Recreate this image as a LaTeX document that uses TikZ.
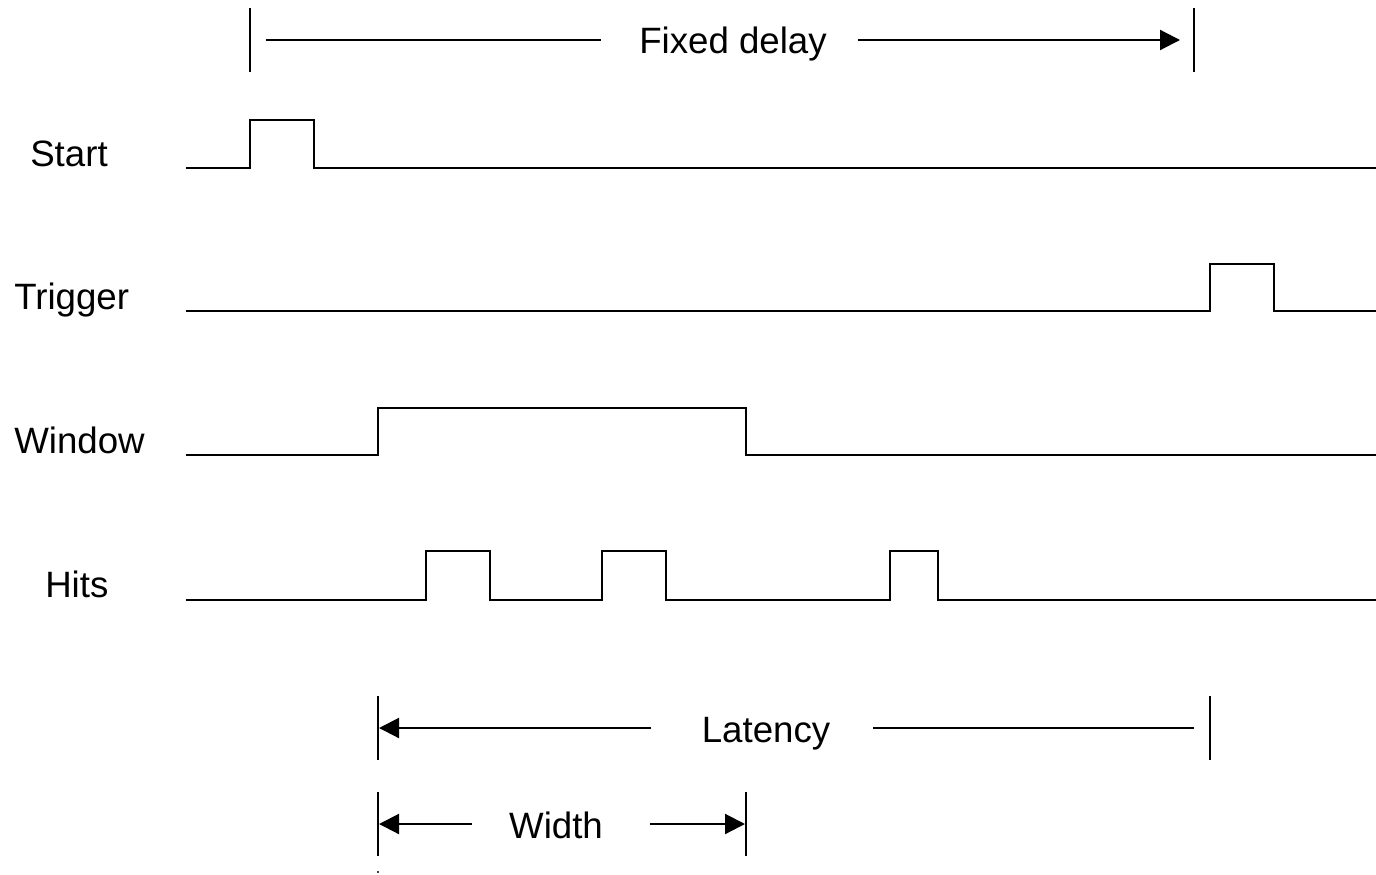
\documentclass[tikz,border=0pt]{standalone}
\usepackage{fontspec}
\setmainfont{Liberation Sans}
\usetikzlibrary{arrows.meta}
\begin{document}
\begin{tikzpicture}[x=0.75pt,y=-0.75pt,
  wave/.style={line width=1.6pt,line join=miter},
  tick/.style={line width=1.6pt},
  dim/.style={line width=1.6pt},
  dimarrow/.style={dim,-{Triangle[length=15pt,width=15pt]}},
  lbl/.style={anchor=base west,inner sep=0pt,font=\fontsize{27.5pt}{30pt}\selectfont},
  dimlbl/.style={anchor=base,inner sep=0pt,font=\fontsize{27.5pt}{30pt}\selectfont}]
\useasboundingbox (0,0) rectangle (1376,874);

% signal names
\node[lbl] (start) at (30,166) {Start};
\node[lbl] (trigger) at (14,309) {Trigger};
\node[lbl] (window) at (14,453) {Window};
\node[lbl] (hits) at (45,597) {Hits};

% waveforms
\draw[wave] (186,168) -- (250,168) -- (250,120) -- (314,120) -- (314,168) -- (1376,168);
\draw[wave] (186,311) -- (1210,311) -- (1210,264) -- (1274,264) -- (1274,311) -- (1376,311);
\draw[wave] (186,455) -- (378,455) -- (378,408) -- (746,408) -- (746,455) -- (1376,455);
\draw[wave] (186,600) -- (426,600) -- (426,551) -- (490,551) -- (490,600)
  -- (602,600) -- (602,551) -- (666,551) -- (666,600)
  -- (890,600) -- (890,551) -- (938,551) -- (938,600) -- (1376,600);

% fixed delay
\coordinate (fdL1) at (250,8);  \coordinate (fdL2) at (250,72);
\coordinate (fdR1) at (1194,8); \coordinate (fdR2) at (1194,72);
\draw[tick] (fdL1) -- (fdL2);
\draw[tick] (fdR1) -- (fdR2);
\node[dimlbl] (fixed) at (733,54) {Fixed delay};
\coordinate (fdA) at (266,40);
\coordinate (fdB) at (1180,40);
\draw[dim] (fdA) -- (601,40);
\draw[dimarrow] (858,40) -- (fdB);

% latency
\coordinate (latL1) at (378,696); \coordinate (latL2) at (378,760);
\coordinate (latR1) at (1210,696); \coordinate (latR2) at (1210,760);
\draw[tick] (latL1) -- (latL2);
\draw[tick] (latR1) -- (latR2);
\node[dimlbl] (latency) at (766,742) {Latency};
\coordinate (latA) at (379,728);
\draw[dimarrow] (651,728) -- (latA);
\draw[dim] (873,728) -- (1194,728);

% width
\coordinate (wL1) at (378,792); \coordinate (wL2) at (378,856);
\coordinate (wR1) at (746,792); \coordinate (wR2) at (746,856);
\draw[tick] (wL1) -- (wL2);
\draw[tick] (wR1) -- (wR2);
\node[dimlbl] (width) at (556,838) {Width};
\coordinate (wA) at (379,824);
\coordinate (wB) at (745,824);
\draw[dimarrow] (472,824) -- (wA);
\draw[dimarrow] (650,824) -- (wB);

\fill (378,872) circle (0.9pt);
\end{tikzpicture}
\end{document}
